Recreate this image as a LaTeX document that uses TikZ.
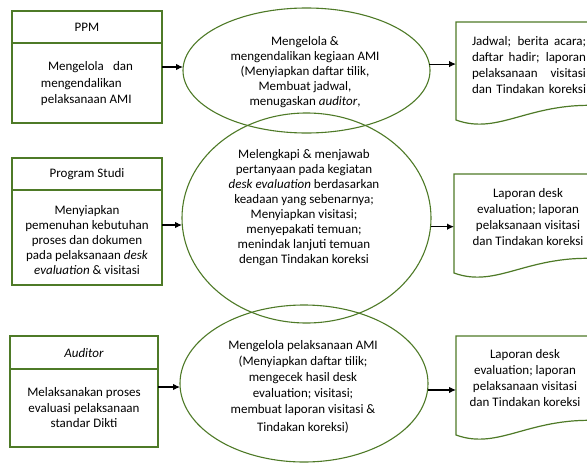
\documentclass[tikz,border=0pt]{standalone}
\usepackage{fontspec}
\setmainfont{Carlito}
\usetikzlibrary{shapes.geometric,arrows.meta,calc}
\definecolor{gline}{RGB}{78,122,39}
\begin{document}
\begin{tikzpicture}[x=1pt,y=-1pt,
  box/.style={draw=gline,line width=1.4pt,rectangle,inner sep=0pt,outer sep=0pt,anchor=north west},
  divider/.style={draw=gline,line width=1.4pt},
  ell/.style={draw=gline,line width=1.1pt,ellipse,inner sep=0pt,outer sep=0pt},
  txt/.style={font=\fontsize{13}{15}\selectfont,align=center,inner sep=0pt},
  arr/.style={-{Latex[length=7pt,width=6.5pt]},line width=1.1pt,black},
  docline/.style={draw=gline,line width=1.2pt},
  docbox/.style={rectangle,inner sep=0pt,outer sep=0pt,anchor=north west,minimum width=150pt}]
\useasboundingbox (0,0) rectangle (587,464);
\clip (0,0) rectangle (587,464);

% left boxes
\node[box,minimum width=150pt,minimum height=112pt] (b1) at (12,11) {};
\draw[divider] (12,43) -- (162,43);
\node[box,minimum width=150pt,minimum height=127pt] (b2) at (12,158) {};
\draw[divider] (12,190) -- (162,190);
\node[box,minimum width=148pt,minimum height=111pt] (b3) at (10,336) {};
\draw[divider] (10,369) -- (158,369);

\node[txt] (b1t) at (87,27) {PPM};
\node[txt,align=left,font=\fontsize{13}{16.5}\selectfont] (b1b) at (87,84)
  {\hspace*{7pt}\makebox[85pt][s]{Mengelola dan}\\mengendalikan\\pelaksanaan AMI};
\node[txt] (b2t) at (87,174) {Program Studi};
\node[txt] (b2b) at (87,240.5) {Menyiapkan\\pemenuhan kebutuhan\\proses dan dokumen\\pada pelaksanaan \textit{desk}\\\textit{evaluation} \& visitasi};
\node[txt] (b3t) at (84,353) {\textit{Auditor}};
\node[txt,font=\fontsize{13}{15.5}\selectfont] (b3b) at (84,408) {Melaksanakan proses\\evaluasi pelaksanaan\\standar Dikti};

% ellipses
\node[ell,minimum width=247pt,minimum height=125pt] (e1) at (306.5,70.5) {};
\node[ell,minimum width=249pt,minimum height=210pt] (e2) at (306.5,218) {};
\node[ell,minimum width=248pt,minimum height=157pt] (e3) at (304,383.5) {};

\node[txt] (e1t) at (305,72.5) {Mengelola \&\\mengendalikan kegiaan AMI\\(Menyiapkan daftar tilik,\\Membuat jadwal,\\menugaskan \textit{auditor},};
\node[txt] (e2t) at (304,208) {Melengkapi \& menjawab\\pertanyaan pada kegiatan\\\textit{desk evaluation} berdasarkan\\keadaan yang sebenarnya;\\Menyiapkan visitasi;\\menyepakati temuan;\\menindak lanjuti temuan\\dengan Tindakan koreksi};
\node[txt,font=\fontsize{13}{15.8}\selectfont] (e3t) at (303,387) {Mengelola pelaksanaan AMI\\(Menyiapkan daftar tilik;\\mengecek hasil desk\\evaluation; visitasi;\\membuat laporan visitasi \&\\[2.5pt]Tindakan koreksi)};

% documents
\node[docbox,minimum height=98pt] (d1) at (456,22) {};
\node[docbox,minimum height=99pt] (d2) at (454,174) {};
\node[docbox,minimum height=99pt] (d3) at (456,336) {};
\foreach \d in {d1,d2,d3}{
  \draw[docline] (\d.north east) -- (\d.north west) -- (\d.south west)
    .. controls ($(\d.south west)+(44,16)$) and ($(\d.south west)+(74,-20)$) .. ($(\d.south west)+(150,-14)$);
}

\node[txt,align=left,font=\fontsize{13}{16.3}\selectfont] (d1t) at (529,65)
  {\makebox[114pt][s]{Jadwal; berita acara;}\\\makebox[114pt][s]{daftar hadir; laporan}\\\makebox[114pt][s]{pelaksanaan visitasi}\\\makebox[114pt][s]{dan Tindakan koreksi}};
\node[txt,font=\fontsize{13}{16}\selectfont] (d2t) at (528,217.5) {Laporan desk\\evaluation; laporan\\pelaksanaan visitasi\\dan Tindakan koreksi};
\node[txt,font=\fontsize{13}{16.3}\selectfont] (d3t) at (525,378) {Laporan desk\\evaluation; laporan\\pelaksanaan visitasi\\dan Tindakan koreksi};

% connectors
\draw[arr] (b1.east) -- (b1.east -| e1.west);
\draw[arr] (e1.3.5) -- (e1.3.5 -| d1.west);
\path ([yshift=-3.5pt]b2.east) coordinate (a2s);
\draw[arr] (a2s) -- (a2s -| e2.west);
\draw[arr] (e2.-4.15) -- (e2.-4.15 -| d2.west);
\path ([yshift=4.5pt]b3.east) coordinate (a3s);
\draw[arr] (a3s) -- (a3s -| e3.west);
\draw[arr] (e3.-3) -- (e3.-3 -| d3.west);
\end{tikzpicture}
\end{document}
